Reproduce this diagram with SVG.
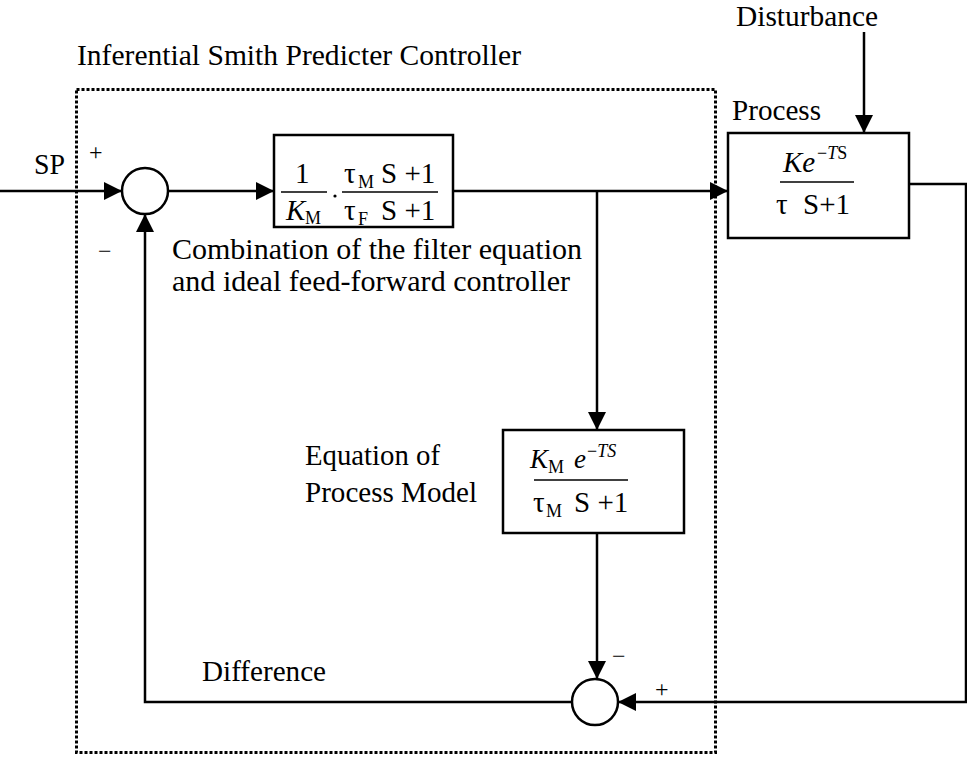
<svg xmlns="http://www.w3.org/2000/svg" width="967" height="760" viewBox="0 0 967 760">
<defs>
<style>
.t{font-family:"Liberation Serif","Times New Roman",serif;font-size:29.5px;fill:#000}
.m{font-family:"Liberation Serif","Times New Roman",serif;font-size:29px;fill:#000}
.mk{font-family:"Liberation Serif","Times New Roman",serif;font-size:27px;fill:#000}
.s{font-family:"Liberation Serif","Times New Roman",serif;font-size:18px;fill:#000}
.sg{font-family:"Liberation Serif","Times New Roman",serif;font-size:24px;fill:#000}
.i{font-style:italic}
.box{fill:#fff;stroke:#000;stroke-width:2.5}
.ln{fill:none;stroke:#000;stroke-width:2.5}
.fr{stroke:#000;stroke-width:1.5}
.sum{fill:#fff;stroke:#000;stroke-width:2.5}
.dot{fill:none;stroke:#000;stroke-width:3;stroke-dasharray:3 2}
</style>
<marker id="arr" viewBox="0 0 18 18" refX="18" refY="9" markerWidth="18" markerHeight="18" orient="auto" markerUnits="userSpaceOnUse">
<path d="M0,0 L18,9 L0,18 z" fill="#000"/>
</marker>
</defs>
<rect width="967" height="760" fill="#fff"/>

<g id="controller-frame">
<rect class="dot" x="76.5" y="89.5" width="639" height="663"/>
<text class="t" x="77" y="65" textLength="444" lengthAdjust="spacingAndGlyphs">Inferential Smith Predicter Controller</text>
</g>

<g id="connectors">
<path class="ln" d="M0,191 H122" marker-end="url(#arr)"/>
<path class="ln" d="M168,191 H274" marker-end="url(#arr)"/>
<path class="ln" d="M453,191 H728" marker-end="url(#arr)"/>
<path class="ln" d="M597,191 V430" marker-end="url(#arr)"/>
<path class="ln" d="M597,533 V679" marker-end="url(#arr)"/>
<path class="ln" d="M864,32 V133" marker-end="url(#arr)"/>
<path class="ln" d="M909,184 H966 V702 H618" marker-end="url(#arr)"/>
<path class="ln" d="M572,702 H145 V214" marker-end="url(#arr)"/>
</g>

<g id="sp-label">
<text class="t" x="34" y="174" textLength="31" lengthAdjust="spacingAndGlyphs">SP</text>
</g>

<g id="sum1">
<circle class="sum" cx="145" cy="191" r="23"/>
<text class="sg" x="89" y="160">+</text>
<text class="sg" x="98" y="259">−</text>
</g>

<g id="filter">
<rect class="box" x="274" y="135" width="179" height="92"/>
<text class="m" x="295" y="183">1</text>
<line class="fr" x1="281" y1="192" x2="327" y2="192"/>
<text class="m i" x="286" y="220">K</text>
<text class="s" x="305" y="224">M</text>
<circle cx="335" cy="196" r="1.6" fill="#000"/>
<text class="m" x="344" y="183">τ</text>
<text class="s" x="358" y="188">M</text>
<text class="m" x="381" y="183">S +1</text>
<line class="fr" x1="342" y1="192" x2="438" y2="192"/>
<text class="m" x="344" y="220">τ</text>
<text class="s" x="358" y="225">F</text>
<text class="m" x="381" y="220">S +1</text>
</g>

<g id="filter-caption">
<text class="t" x="172" y="259" textLength="410" lengthAdjust="spacingAndGlyphs">Combination of the filter equation</text>
<text class="t" x="172" y="291" textLength="398" lengthAdjust="spacingAndGlyphs">and ideal feed-forward controller</text>
</g>

<g id="process">
<text class="t" x="732" y="120" textLength="89" lengthAdjust="spacingAndGlyphs">Process</text>
<text class="t" x="736" y="26" textLength="142" lengthAdjust="spacingAndGlyphs">Disturbance</text>
<rect class="box" x="728" y="133" width="181" height="105"/>
<text class="m i" x="783" y="172">Ke</text>
<text class="s" x="817" y="159">−<tspan class="i">T</tspan>S</text>
<line class="fr" x1="780" y1="182" x2="854" y2="182"/>
<text class="m" x="776" y="214">τ</text>
<text class="m" x="803" y="214">S+1</text>
</g>

<g id="model">
<text class="t" x="305" y="465" textLength="135" lengthAdjust="spacingAndGlyphs">Equation of</text>
<text class="t" x="305" y="502" textLength="172" lengthAdjust="spacingAndGlyphs">Process Model</text>
<rect class="box" x="503" y="430" width="181" height="103"/>
<text class="mk i" x="530" y="468">K</text>
<text class="s" x="548" y="473">M</text>
<text class="mk i" x="574" y="468">e</text>
<text class="s" x="587" y="457">−<tspan class="i">TS</tspan></text>
<line class="fr" x1="534" y1="480" x2="628" y2="480"/>
<text class="m" x="533" y="512">τ</text>
<text class="s" x="546" y="517">M</text>
<text class="m" x="574" y="512">S +1</text>
</g>

<g id="sum2">
<circle class="sum" cx="595" cy="702" r="23"/>
<text class="sg" x="612" y="664">−</text>
<text class="sg" x="655" y="697">+</text>
</g>

<g id="difference-label">
<text class="t" x="202" y="681" textLength="124" lengthAdjust="spacingAndGlyphs">Difference</text>
</g>
</svg>
